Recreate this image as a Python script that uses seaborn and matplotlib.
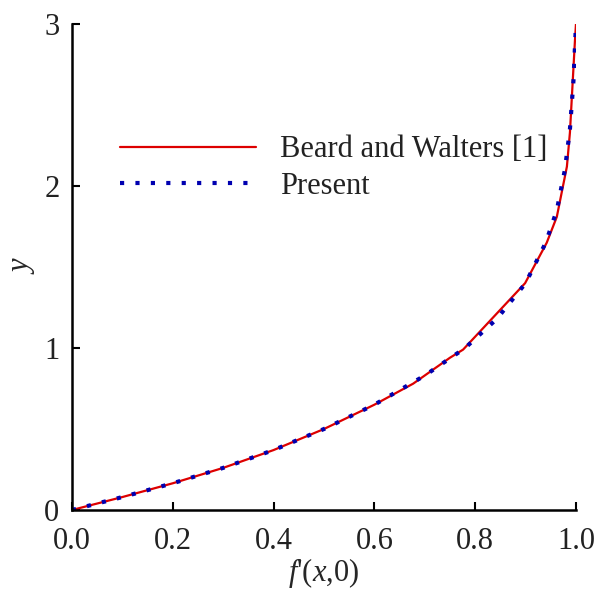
import numpy as np
import pandas as pd
import seaborn as sns
import matplotlib.pyplot as plt

# data
beard_x = [0.0, 0.1, 0.2, 0.3, 0.4, 0.5, 0.6, 0.677, 0.75, 0.776, 0.899, 0.942, 0.962, 0.982, 0.988, 0.998, 1.0]
beard_y = [0.0, 0.08, 0.165, 0.26, 0.37, 0.5, 0.65, 0.78, 0.94, 0.99, 1.40, 1.65, 1.81, 2.12, 2.33, 2.9, 3.0]

present_x = [0.0, 0.1, 0.2, 0.3, 0.4, 0.5, 0.6, 0.7, 0.78, 0.843, 0.9, 0.94, 0.962, 0.978, 0.988, 0.995, 1.0]
present_y = [0.0, 0.08, 0.165, 0.26, 0.37, 0.5, 0.65, 0.83, 1.0, 1.18, 1.40, 1.65, 1.85, 2.1, 2.35, 2.65, 3.0]

xticks = [0.0, 0.2, 0.4, 0.6, 0.8, 1.0]
yticks = [0, 1, 2, 3]

sns.set_style("ticks")
plt.rcParams['font.family'] = ['Liberation Serif', 'DejaVu Serif']
plt.rcParams['mathtext.fontset'] = 'custom'
plt.rcParams['mathtext.it'] = 'Liberation Serif:italic'
plt.rcParams['mathtext.rm'] = 'Liberation Serif'
plt.rcParams['text.color'] = '#222222'
plt.rcParams['xtick.color'] = 'black'
plt.rcParams['ytick.color'] = 'black'
plt.rcParams['xtick.labelcolor'] = '#222222'
plt.rcParams['ytick.labelcolor'] = '#222222'
plt.rcParams['axes.edgecolor'] = 'black'

df_b = pd.DataFrame({"x": beard_x, "y": beard_y})
df_p = pd.DataFrame({"x": present_x, "y": present_y})

fig = plt.figure(figsize=(5.96, 5.90), dpi=100)
ax = fig.add_axes([0.1208, 0.1356, 0.8456, 0.8237])

sns.lineplot(data=df_b, x="x", y="y", ax=ax, color="#dd0000", lw=1.6,
             sort=False, label="Beard and Walters [1]")
sns.lineplot(data=df_p, x="x", y="y", ax=ax, color="#0000b0", lw=3.0,
             sort=False, label="Present", dashes=False)
ax.lines[1].set_dashes((1, 2.7))
ax.lines[1].set_dash_capstyle("butt")

ax.set_xlim(0, 1)
ax.set_ylim(0, 3)
ax.set_xticks(xticks)
ax.set_yticks(yticks)
ax.set_xticklabels([f"{t:.1f}" for t in xticks])
ax.set_yticklabels([str(t) for t in yticks])
ax.tick_params(direction="in", length=6, width=1.5, labelsize=22)
ax.tick_params(axis="x", pad=12)
ax.tick_params(axis="y", pad=9)
for s in ["left", "bottom"]:
    ax.spines[s].set_linewidth(1.8)
sns.despine(ax=ax)

ax.set_xlabel(r"$f$'($x$,0)", fontsize=22)
ax.set_ylabel(r"$y$", fontsize=22)
ax.xaxis.set_label_coords(0.5, -0.095)
ax.yaxis.set_label_coords(-0.07, 0.504)

leg = ax.legend(loc="upper left", bbox_to_anchor=(0.095, 0.771), frameon=False,
                fontsize=22, handlelength=4.45, handletextpad=0.78,
                borderaxespad=0, borderpad=0, labelspacing=0.25)
for h in leg.get_lines()[1:]:
    h.set_dashes((1, 2.7))

fig.savefig("out.png", dpi=100)
